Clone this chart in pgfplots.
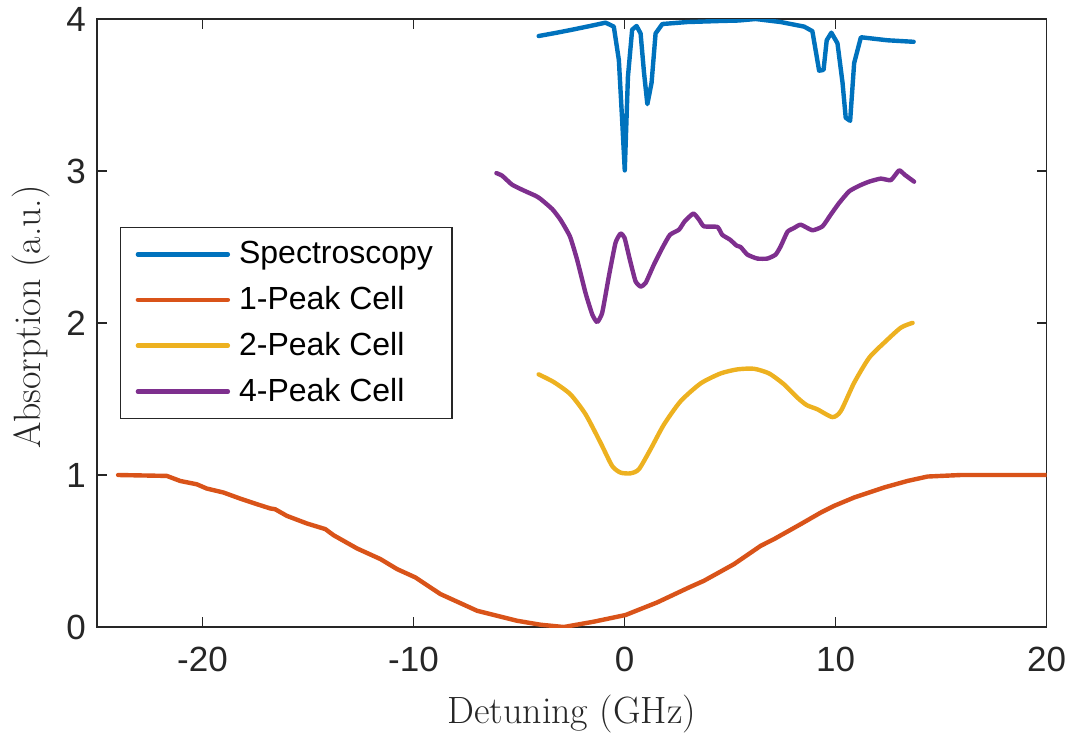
\documentclass[border=0pt]{standalone}
\usepackage{fontspec}
\usepackage{pgfplots}
\pgfplotsset{compat=1.18}
\newfontfamily\hel{Liberation Sans}
\definecolor{mblue}{rgb}{0,0.447,0.741}
\definecolor{morange}{rgb}{0.85,0.325,0.098}
\definecolor{myellow}{rgb}{0.929,0.694,0.125}
\definecolor{mpurple}{rgb}{0.494,0.184,0.556}
\definecolor{axgray}{rgb}{0.15,0.15,0.15}
\begin{document}
\begin{tikzpicture}
\begin{axis}[
  scale only axis,
  width=474.8pt, height=304pt,
  xmin=-25, xmax=20, ymin=0, ymax=4,
  xtick={-20,-10,0,10,20}, ytick={0,1,2,3,4},
  tick align=inside, major tick length=5pt,
  axis line style={axgray, line width=0.7pt},
  every tick/.style={axgray, line width=0.7pt},
  /pgf/number format/assume math mode=true,
  tick label style={font=\hel\fontsize{17.5}{20}\selectfont, text=axgray},
  xticklabel style={yshift=-6.5pt},
  yticklabel style={xshift=-2pt},
  xlabel={Detuning (GHz)},
  ylabel={Absorption (a.u.)},
  label style={font=\fontsize{19}{22}\selectfont, text=axgray},
  xlabel style={at={(axis description cs:0.5,0)}, anchor=center, yshift=-43.5pt},
  ylabel style={at={(axis description cs:0,0.5)}, anchor=center, rotate=0, yshift=33pt, xshift=3pt},
  legend cell align=left,
  legend style={at={(0.0242,0.658)}, anchor=north west, draw=axgray, line width=0.7pt,
    font=\hel\fontsize{16}{19}\selectfont, text=black,
    inner xsep=7.5pt, inner ysep=5pt, row sep=5.85pt},
  legend image code/.code={\draw[#1, line width=2.2pt] (0pt,0pt) -- (45pt,0pt); \path (47.5pt,0pt);},
  every axis plot/.append style={line width=2.2pt, line join=round, line cap=round},
]
\addplot[mblue] coordinates {
(-4.07,3.888) (-3.2,3.91) (-2.40,3.932) (-1.6,3.955) (-0.90,3.976) (-0.51,3.95) (-0.27,3.73) (-0.12,3.35) (0.01,3.004) (0.16,3.62) (0.36,3.93) (0.57,3.954) (0.76,3.905) (0.92,3.65) (1.08,3.44) (1.28,3.58) (1.47,3.905) (1.79,3.967) (2.97,3.98) (4.55,3.987) (5.4,3.99) (6.21,4.0) (7.40,3.98) (8.51,3.95) (8.90,3.92) (9.22,3.66) (9.43,3.665) (9.58,3.86) (9.80,3.91) (10.09,3.84) (10.33,3.58) (10.48,3.35) (10.69,3.33) (10.88,3.71) (11.20,3.88) (12.46,3.86) (13.70,3.85)
};
\addlegendentry{Spectroscopy}
\addplot[morange] coordinates {
(-24,1.0) (-21.69,0.994) (-21.06,0.961) (-20.27,0.939) (-19.80,0.911) (-19.01,0.885) (-18.22,0.845) (-17.42,0.808) (-16.79,0.78) (-16.56,0.775) (-16.00,0.731) (-15.05,0.681) (-14.18,0.644) (-13.79,0.604) (-12.68,0.517) (-11.57,0.447) (-10.78,0.381) (-9.91,0.326) (-8.73,0.217) (-6.99,0.107) (-5.09,0.041) (-3.98,0.015) (-2.88,0.0) (-1.46,0.035) (0.05,0.079) (1.55,0.162) (3.05,0.26) (3.76,0.304) (5.19,0.414) (6.45,0.534) (7.08,0.578) (8.35,0.677) (9.30,0.753) (9.93,0.797) (10.88,0.852) (12.30,0.918) (13.41,0.961) (14.36,0.99) (15.94,1.0) (20,1.0)
};
\addlegendentry{1-Peak Cell}
\addplot[myellow, smooth, tension=0.4] coordinates {
(-4.07,1.662) (-3.35,1.611) (-2.56,1.53) (-1.85,1.40) (-1.14,1.213) (-0.59,1.06) (-0.19,1.016) (0.28,1.011) (0.68,1.038) (1.23,1.169) (1.87,1.333) (2.66,1.486) (3.61,1.603) (4.55,1.668) (5.35,1.695) (6.13,1.699) (6.85,1.668) (7.56,1.596) (8.19,1.509) (8.63,1.46) (9.14,1.432) (9.85,1.381) (10.25,1.421) (10.88,1.607) (11.59,1.771) (12.30,1.87) (13.09,1.969) (13.65,2.001)
};
\addlegendentry{2-Peak Cell}
\addplot[mpurple, smooth, tension=0.3] coordinates {
(-6.07,2.986) (-5.80,2.969) (-5.33,2.91) (-4.78,2.872) (-4.22,2.837) (-3.98,2.816) (-3.43,2.75) (-3.04,2.68) (-2.59,2.57) (-2.25,2.417) (-1.85,2.198) (-1.53,2.056) (-1.30,2.006) (-1.06,2.067) (-0.74,2.31) (-0.43,2.527) (-0.19,2.588) (0.0,2.56) (0.25,2.417) (0.52,2.275) (0.76,2.24) (1.0,2.264) (1.39,2.384) (1.79,2.494) (2.15,2.58) (2.58,2.614) (2.85,2.669) (3.26,2.72) (3.53,2.68) (3.76,2.636) (4.40,2.632) (4.63,2.58) (5.0,2.548) (5.31,2.509) (5.50,2.50) (5.82,2.45) (6.29,2.424) (6.77,2.424) (7.16,2.45) (7.40,2.505) (7.72,2.60) (8.03,2.625) (8.35,2.647) (8.90,2.61) (9.38,2.636) (9.77,2.713) (10.17,2.79) (10.64,2.866) (11.12,2.903) (11.59,2.93) (12.14,2.95) (12.62,2.94) (13.01,3.004) (13.28,2.975) (13.72,2.93)
};
\addlegendentry{4-Peak Cell}
\end{axis}
\pgfresetboundingbox
\path (current axis.south west) ++(-48.5pt,-53.5pt) coordinate (bbsw);
\path (current axis.north east) ++(13.2pt,9.5pt) coordinate (bbne);
\useasboundingbox (bbsw) rectangle (bbne);
\end{tikzpicture}
\end{document}
